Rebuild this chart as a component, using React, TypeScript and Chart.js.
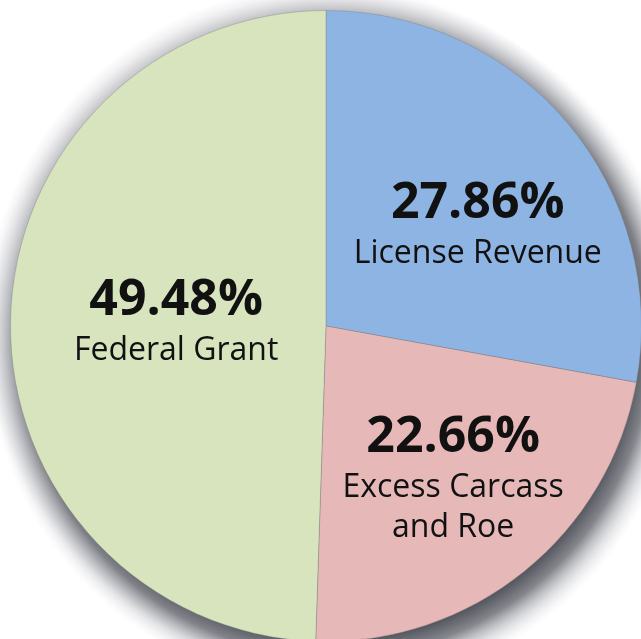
import React, { useEffect, useRef } from "react";
import { Chart, registerables } from "chart.js";

Chart.register(...registerables);

const categories = ["License Revenue", "Excess Carcass and Roe", "Federal Grant"];
const values = [27.86, 22.66, 49.48];
const percentLabels = ["27.86%", "22.66%", "49.48%"];
const nameLines = [["License Revenue"], ["Excess Carcass", "and Roe"], ["Federal Grant"]];
const colors = ["#8EB4E3", "#E6B9B8", "#D7E4BD"];

// label anchor (percent baseline) relative to pie centre, as fraction of radius
const labelAnchors: [number, number][] = [
  [0.481, -0.342],
  [0.403, 0.399],
  [-0.475, -0.035],
];

const shadowPlugin = {
  id: "pieShadow",
  beforeDatasetsDraw(chart: any) {
    const meta = chart.getDatasetMeta(0);
    const arc = meta.data[0];
    if (!arc) return;
    const x = arc.x;
    const y = arc.y;
    const r = arc.outerRadius;
    const ctx = chart.ctx;
    ctx.save();
    // faint halo all round
    const g1 = ctx.createRadialGradient(x, y, r - 4, x, y, r + 26);
    g1.addColorStop(0, "rgba(60,60,75,0.2)");
    g1.addColorStop(1, "rgba(60,60,75,0)");
    ctx.fillStyle = g1;
    ctx.beginPath();
    ctx.arc(x, y, r + 26, 0, Math.PI * 2);
    ctx.fill();
    // darker shadow offset right / down
    const sx = x + 9;
    const sy = y + 15;
    const g2 = ctx.createRadialGradient(sx, sy, r - 18, sx, sy, r + 34);
    g2.addColorStop(0, "rgba(75,77,85,0.95)");
    g2.addColorStop(0.35, "rgba(95,97,105,0.75)");
    g2.addColorStop(0.7, "rgba(150,152,160,0.3)");
    g2.addColorStop(1, "rgba(210,210,215,0)");
    ctx.fillStyle = g2;
    ctx.beginPath();
    ctx.arc(sx, sy, r + 34, 0, Math.PI * 2);
    ctx.fill();
    ctx.restore();
  },
};

const labelPlugin = {
  id: "pieLabels",
  afterDatasetsDraw(chart: any) {
    const meta = chart.getDatasetMeta(0);
    const ctx = chart.ctx;
    ctx.save();
    ctx.fillStyle = "#111111";
    ctx.textAlign = "center";
    ctx.textBaseline = "alphabetic";
    meta.data.forEach((arc: any, i: number) => {
      const x = arc.x;
      const y = arc.y;
      const r = arc.outerRadius;
      const [fx, fy] = labelAnchors[i];
      const lx = x + fx * r;
      const ly = y + fy * r;
      ctx.font = "bold 50px 'Open Sans', sans-serif";
      ctx.fillText(percentLabels[i], lx, ly);
      ctx.font = "32px 'Open Sans', sans-serif";
      nameLines[i].forEach((line, j) => {
        ctx.fillText(line, lx, ly + 45 + j * 40);
      });
    });
    ctx.restore();
  },
};

export default function App() {
  const ref = useRef<HTMLCanvasElement | null>(null);
  useEffect(() => {
    if (!ref.current) return;
    const chart = new Chart(ref.current, {
      type: "pie",
      data: {
        labels: categories,
        datasets: [
          {
            data: values,
            backgroundColor: colors,
            borderColor: "rgba(120,120,120,0.35)",
            borderWidth: 1,
          },
        ],
      },
      options: {
        responsive: false,
        animation: false,
        devicePixelRatio: 1,
        layout: { padding: 44 },
        plugins: {
          legend: { display: false },
          tooltip: { enabled: false },
        },
      },
      plugins: [shadowPlugin, labelPlugin],
    });
    return () => chart.destroy();
  }, []);
  return (
    <div
      style={{
        position: "fixed",
        left: 0,
        top: 0,
        width: 641,
        height: 639,
        overflow: "hidden",
        background: "#ffffff",
      }}
    >
      <canvas
        ref={ref}
        width={720}
        height={720}
        style={{ position: "absolute", left: -34, top: -34, width: 720, height: 720 }}
      />
    </div>
  );
}
